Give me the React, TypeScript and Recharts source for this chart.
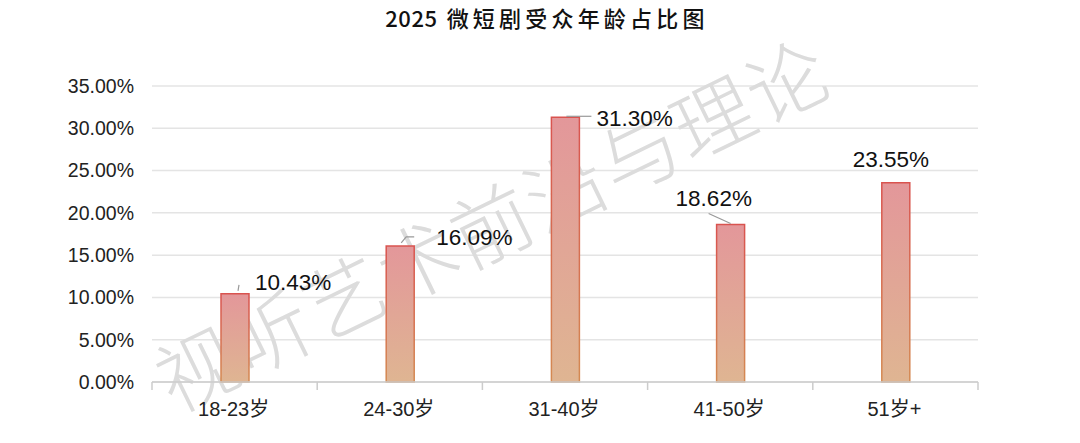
import React from 'react';
import { BarChart, Bar, XAxis, YAxis, CartesianGrid, LabelList, Customized } from 'recharts';

const categories = ['18-23岁', '24-30岁', '31-40岁', '41-50岁', '51岁+'];
const shares = [10.43, 16.09, 31.3, 18.62, 23.55];
const yTicks = [0, 5, 10, 15, 20, 25, 30, 35];
const titleYear = '2025';
const titleText = ' 微短剧受众年龄占比图';
const watermarkText = '视听艺术前沿与理论';

const data = categories.map((c, i) => ({ name: c, value: shares[i] }));

const W = 1080;
const H = 443;
const X_AXIS_H = 30;
const MARGIN = { top: 86, right: 102, bottom: 31, left: 0 };
const Y_AXIS_W = 152;
const PLOT_W = W - MARGIN.right - Y_AXIS_W;
const PLOT_BOTTOM = H - MARGIN.bottom - X_AXIS_H;
const BAND = PLOT_W / categories.length;

// label placement offsets relative to (bar center, bar top)
const labelOffsets = [
  { dx: 20, dy: -4, leader: [[4, -9], [3, -3]] },
  { dx: 36, dy: -1, leader: [[1, -3], [6, -9], [14, -9]] },
  { dx: 31, dy: 9, leader: [[1, -1], [26, -1]] },
  { dx: -55, dy: -19, leader: [[-22, -11], [0, -1]] },
  { dx: -43, dy: -16, leader: [] as number[][] },
];

const FONT = '"Liberation Sans", Arial, "Noto Sans CJK SC", sans-serif';

const ValueLabel = (props: any) => {
  const { x, y, width, index, value } = props;
  const cx = Number(x) + Number(width) / 2;
  const top = Number(y);
  const o = labelOffsets[index];
  const pts = o.leader.map((p) => `${cx + p[0]},${top + p[1]}`).join(' ');
  return (
    <g>
      {o.leader.length > 0 && (
        <polyline points={pts} fill="none" stroke="#999" strokeWidth={1.2} />
      )}
      <text x={cx + o.dx} y={top + o.dy} fontSize={22.5} fill="#111" fontFamily={FONT}>
        {Number(value).toFixed(2)}%
      </text>
    </g>
  );
};

const XTick = (props: any) => {
  const { x, payload, index } = props;
  const left = x - BAND / 2;
  const right = x + BAND / 2;
  return (
    <g>
      <line x1={left} y1={PLOT_BOTTOM} x2={left} y2={PLOT_BOTTOM + 8} stroke="#ccc" strokeWidth={1.5} />
      {index === categories.length - 1 && (
        <line x1={right} y1={PLOT_BOTTOM} x2={right} y2={PLOT_BOTTOM + 8} stroke="#ccc" strokeWidth={1.5} />
      )}
      <text x={x - 1} y={PLOT_BOTTOM + 34} textAnchor="middle" fontSize={20} fill="#222" fontFamily={FONT}>
        {payload.value}
      </text>
    </g>
  );
};

const Watermark = () => (
  <text
    x={494}
    y={255}
    textAnchor="middle"
    transform="rotate(-26 494 228)"
    fontSize={80}
    fontWeight={300}
    letterSpacing={2}
    fill="#dcdcdc"
    fontFamily='"Noto Sans CJK SC", serif'
  >
    {watermarkText}
  </text>
);

export default function App() {
  return (
    <div style={{ position: 'absolute', left: 0, top: 0, width: W, height: H, background: '#fff' }}>
      <div
        style={{
          position: 'absolute',
          left: 0,
          top: 1,
          width: W,
          paddingLeft: 14,
          boxSizing: 'border-box',
          textAlign: 'center',
          fontSize: 22,
          fontWeight: 500,
          fontFamily: '"Noto Sans CJK SC", sans-serif',
          color: '#111',
          whiteSpace: 'pre',
        }}
      >
        <span style={{ letterSpacing: 0.5 }}>{titleYear}</span>
        <span style={{ letterSpacing: 4.2 }}>{titleText}</span>
      </div>
      <BarChart width={W} height={H} data={data} margin={MARGIN} style={{ position: 'absolute', left: 0, top: 0 }}>
        <defs>
          <linearGradient id="barFill" x1="0" y1="0" x2="0" y2="1">
            <stop offset="0%" stopColor="#e3979a" />
            <stop offset="100%" stopColor="#dfb592" />
          </linearGradient>
          <linearGradient id="barStroke" x1="0" y1="0" x2="0" y2="1">
            <stop offset="0%" stopColor="#d9534f" />
            <stop offset="100%" stopColor="#d48a52" />
          </linearGradient>
        </defs>
        <CartesianGrid vertical={false} stroke="#e4e4e4" strokeWidth={1.5} />
        <Customized component={Watermark} />
        <XAxis
          dataKey="name"
          height={X_AXIS_H}
          axisLine={{ stroke: '#ccc', strokeWidth: 1.5 }}
          tickLine={false}
          tick={<XTick />}
          interval={0}
        />
        <YAxis
          width={Y_AXIS_W}
          domain={[0, 35]}
          ticks={yTicks}
          axisLine={false}
          tickLine={false}
          tickMargin={12}
          tickFormatter={(v: number) => `${v.toFixed(2)}%`}
          tick={{ fontSize: 19.5, fill: '#222', fontFamily: FONT }}
        />
        <Bar
          dataKey="value"
          barSize={28}
          fill="url(#barFill)"
          stroke="url(#barStroke)"
          strokeWidth={1.5}
          isAnimationActive={false}
        >
          <LabelList dataKey="value" content={<ValueLabel />} />
        </Bar>
      </BarChart>
    </div>
  );
}
